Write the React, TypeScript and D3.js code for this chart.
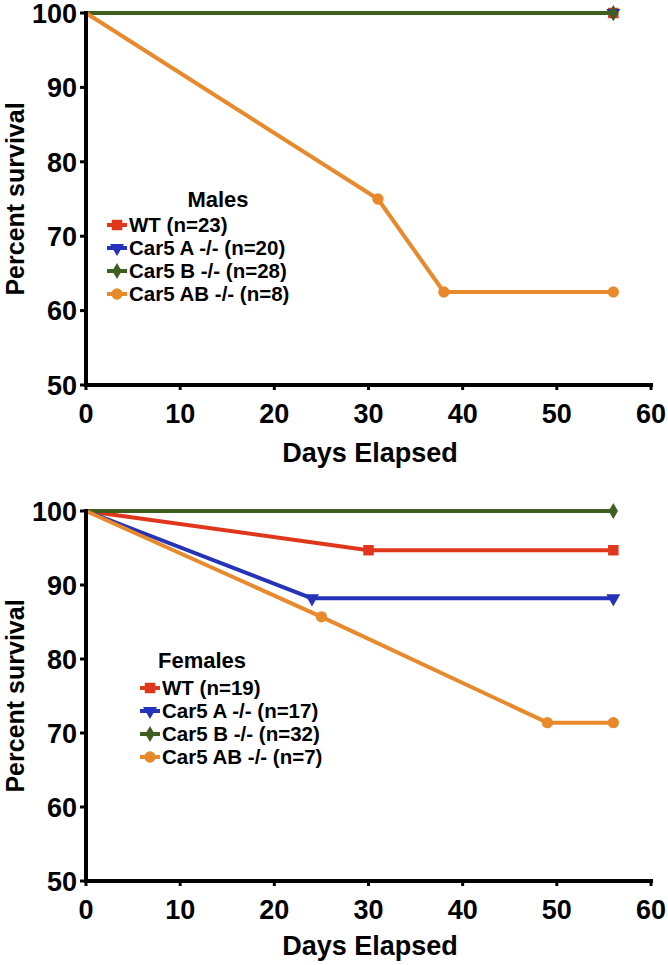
import React from "react";
import * as d3 from "d3";

const xTicks = [0, 10, 20, 30, 40, 50, 60];
const yTicks = [50, 60, 70, 80, 90, 100];
const seriesNames = ["WT", "Car5 A -/-", "Car5 B -/-", "Car5 AB -/-"];
const seriesColors = ["#e0361c", "#2433b8", "#3f5f1f", "#e88a2c"];
const seriesSymbols = ["square", "triangleDown", "diamond", "circle"];

const maleN = [23, 20, 28, 8];
const maleWT: [number, number][] = [[0, 100], [56, 100]];
const maleA: [number, number][] = [[0, 100], [56, 100]];
const maleB: [number, number][] = [[0, 100], [56, 100]];
const maleAB: [number, number][] = [[0, 100], [31, 75], [38, 62.5], [56, 62.5]];

const femaleN = [19, 17, 32, 7];
const femaleWT: [number, number][] = [[0, 100], [30, 94.7], [56, 94.7]];
const femaleA: [number, number][] = [[0, 100], [24, 88.2], [56, 88.2]];
const femaleB: [number, number][] = [[0, 100], [56, 100]];
const femaleAB: [number, number][] = [[0, 100], [25, 85.7], [49, 71.4], [56, 71.4]];

const FONT = "'Liberation Sans', Arial, Helvetica, sans-serif";

function Marker({ type, x, y, color, scale = 1 }: any) {
  let path = "";
  let transform = `translate(${x},${y})`;
  if (type === "square") path = d3.symbol(d3.symbolSquare, 110 * scale)()!;
  else if (type === "circle") path = d3.symbol(d3.symbolCircle, 100 * scale)()!;
  else if (type === "diamond") path = d3.symbol(d3.symbolDiamond, 75 * scale)()!;
  else if (type === "triangleDown") {
    path = d3.symbol(d3.symbolTriangle, 85 * scale)()!;
    transform += " rotate(180)";
  }
  return <path d={path} transform={transform} fill={color} />;
}

function Panel({ data, ns, top, bottom, title, titleX, titleY, legX, legY, legStep, tickDy, xTitleY }: any) {
  const x = d3.scaleLinear().domain([0, 60]).range([86, 651]);
  const y = d3.scaleLinear().domain([50, 100]).range([bottom, top]);
  const line = d3.line<[number, number]>().x((d) => x(d[0])).y((d) => y(d[1]));
  return (
    <g>
      {data.map((s: [number, number][], i: number) => (
        <g key={i}>
          <path d={line(s)!} fill="none" stroke={seriesColors[i]} strokeWidth={4} strokeLinejoin="round" />
          {s.slice(1).map((p, j) => (
            <Marker key={j} type={seriesSymbols[i]} x={x(p[0])} y={y(p[1])} color={seriesColors[i]} />
          ))}
        </g>
      ))}
      <line x1={x(0)} x2={x(0)} y1={y(100) - 2} y2={y(50) + 2} stroke="#000" strokeWidth={4} />
      <line x1={x(0) - 2} x2={x(60) + 2} y1={y(50)} y2={y(50)} stroke="#000" strokeWidth={4} />
      {yTicks.map((t) => (
        <g key={t}>
          <line x1={x(0) - 6} x2={x(0)} y1={y(t)} y2={y(t)} stroke="#000" strokeWidth={3} />
          <text x={x(0) - 9} y={y(t)} dy="0.36em" textAnchor="end" fontFamily={FONT} fontWeight="bold" fontSize={27}>
            {t}
          </text>
        </g>
      ))}
      {xTicks.map((t) => (
        <g key={t}>
          <line x1={x(t)} x2={x(t)} y1={y(50)} y2={y(50) + 5} stroke="#000" strokeWidth={3} />
          <text x={x(t)} y={y(50) + tickDy} textAnchor="middle" fontFamily={FONT} fontWeight="bold" fontSize={27}>
            {t}
          </text>
        </g>
      ))}
      <text x={370} y={xTitleY} textAnchor="middle" fontFamily={FONT} fontWeight="bold" fontSize={27}>
        Days Elapsed
      </text>
      <text
        transform={`translate(24,${(y(50) + y(100)) / 2}) rotate(-90)`}
        textAnchor="middle"
        fontFamily={FONT}
        fontWeight="bold"
        fontSize={25}
      >
        Percent survival
      </text>
      <text x={titleX} y={titleY} textAnchor="middle" fontFamily={FONT} fontWeight="bold" fontSize={22}>
        {title}
      </text>
      {seriesNames.map((nm, i) => {
        const cy = legY + i * legStep;
        return (
          <g key={nm}>
            <line x1={legX} x2={legX + 20} y1={cy} y2={cy} stroke={seriesColors[i]} strokeWidth={4} />
            <Marker type={seriesSymbols[i]} x={legX + 10} y={cy} color={seriesColors[i]} />
            <text x={legX + 22} y={cy} dy="0.36em" fontFamily={FONT} fontWeight="bold" fontSize={20.5}>
              {`${nm} (n=${ns[i]})`}
            </text>
          </g>
        );
      })}
    </g>
  );
}

export default function App() {
  return (
    <svg width={668} height={965} style={{ position: "absolute", left: 0, top: 0, background: "#fff" }}>
      <rect width={668} height={965} fill="#fff" />
      <Panel
        data={[maleWT, maleA, maleB, maleAB]}
        ns={maleN}
        top={13}
        bottom={385}
        title="Males"
        titleX={218}
        titleY={207}
        legX={107}
        legY={225}
        legStep={23}
        tickDy={38}
        xTitleY={462}
      />
      <Panel
        data={[femaleWT, femaleA, femaleB, femaleAB]}
        ns={femaleN}
        top={511}
        bottom={881}
        title="Females"
        titleX={202}
        titleY={668}
        legX={140}
        legY={688}
        legStep={23}
        tickDy={38}
        xTitleY={955}
      />
    </svg>
  );
}
